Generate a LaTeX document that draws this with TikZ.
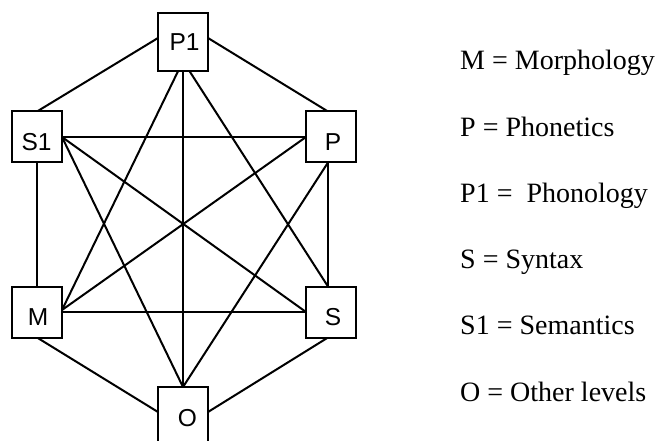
\documentclass[tikz,border=0pt]{standalone}
\usepackage{fontspec}
\setmainfont{Liberation Serif}
\newfontfamily\boxfont{Liberation Sans}
\usetikzlibrary{backgrounds}

\tikzset{
  level/.style={draw, fill=white, line width=2pt, inner sep=0pt, outer sep=0pt,
                minimum width=50pt, minimum height=51pt},
  tall/.style={minimum height=58pt},
  tag/.style={anchor=base, inner sep=0pt, font=\boxfont\fontsize{24.5}{28}\selectfont},
  link/.style={line width=2pt},
  legend/.style={anchor=base west, inner sep=0pt, font=\fontsize{28}{32}\selectfont}
}

\begin{document}
\begin{tikzpicture}[x=1pt, y=-1pt]
\useasboundingbox (0,0) rectangle (656,441);

% the six levels
\node[level, tall] (P1) at (183,42) {};
\node[level] (S1) at (37,137) {};
\node[level] (P)  at (331,137) {};
\node[level] (M)  at (37,312) {};
\node[level] (S)  at (331,312) {};
\node[level, tall] (O) at (183,416) {};

% box captions
\node[tag] (tP1) at (184.5,51) {P1};
\node[tag] (tS1) at (36.5,151) {S1};
\node[tag] (tP)  at (333,151) {P};
\node[tag] (tM)  at (38,325) {M};
\node[tag] (tS)  at (333,325) {S};
\node[tag] (tO)  at (187.5,426) {O};

% every level is linked to every other one
\begin{scope}[on background layer]
  \coordinate (hub) at ([yshift=10pt]P1.south);
  % outer hexagon
  \draw[link] ([yshift=4pt]P1.west) -- (S1.north);
  \draw[link] ([yshift=4pt]P1.east) -- ([xshift=-3pt]P.north);
  \draw[link] ([xshift=-3pt]P.south) -- ([xshift=-3pt]S.north);
  \draw[link] ([xshift=-3pt]S.south) -- ([yshift=4pt]O.east);
  \draw[link] (M.south) -- ([yshift=4pt]O.west);
  \draw[link] (S1.south) -- (M.north);
  % diagonals
  \draw[link] (hub) -- ([yshift=2pt]M.east);
  \draw[link] (hub) -- (O.north);
  \draw[link] (hub) -- ([xshift=-3pt]S.north);
  \draw[link] (S1.east) -- (P.west);
  \draw[link] (S1.east) -- (S.west);
  \draw[link] (S1.east) -- (O.north);
  \draw[link] (P.west) -- ([yshift=2pt]M.east);
  \draw[link] ([xshift=-3pt]P.south) -- (O.north);
  \draw[link] (M.east) -- (S.west);
\end{scope}

% key
\node[legend] (k1) at (460,70)    {M = Morphology};
\node[legend] (k2) at (460,136.2) {P = Phonetics};
\node[legend] (k3) at (460,202.4) {P1 = \ Phonology};
\node[legend] (k4) at (460,268.6) {S = Syntax};
\node[legend] (k5) at (460,334.8) {S1 = Semantics};
\node[legend] (k6) at (460,401)   {O = Other levels};
\end{tikzpicture}
\end{document}
